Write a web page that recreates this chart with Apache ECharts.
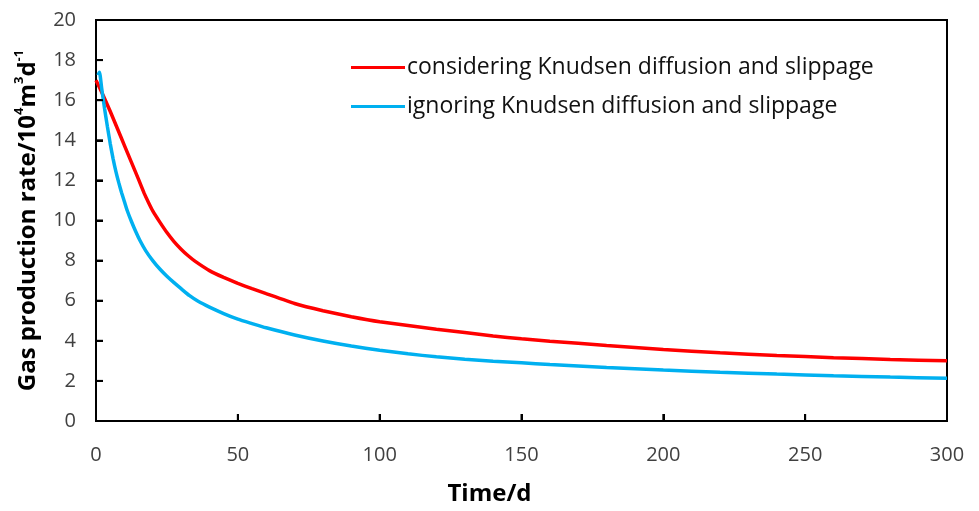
<!DOCTYPE html>
<html>
<head>
<meta charset="utf-8">
<script src="https://cdn.jsdelivr.net/npm/echarts@6/dist/echarts.min.js"></script>
<style>html,body{margin:0;padding:0;background:#fff}#c{width:979px;height:511px}</style>
</head>
<body>
<div id="c"></div>
<script>
var seriesNames = ['considering Knudsen diffusion and slippage', 'ignoring Knudsen diffusion and slippage'];
var xTicks = [0, 50, 100, 150, 200, 250, 300];
var yTicks = [0, 2, 4, 6, 8, 10, 12, 14, 16, 18, 20];

var redTime = [0, 2.5, 5, 7.5, 10, 12.5, 15, 17, 18.5, 20, 22.5, 25, 27.5, 30, 32.5, 35, 40, 45, 50, 55, 60, 70, 80, 90, 100, 120, 140, 150, 160, 180, 200, 220, 240, 260, 280, 300];
var redRate = [17.0, 16.25, 15.45, 14.6, 13.75, 12.9, 12.05, 11.35, 10.9, 10.48, 9.92, 9.4, 8.95, 8.57, 8.24, 7.96, 7.5, 7.16, 6.86, 6.6, 6.35, 5.86, 5.5, 5.2, 4.95, 4.58, 4.24, 4.1, 3.98, 3.77, 3.57, 3.4, 3.27, 3.16, 3.07, 3.0];

var blueTime = [0.7, 1.2, 2, 3, 4, 5, 6, 7, 8, 9, 10, 11, 12.5, 14, 15.5, 17.5, 20, 22.5, 25, 27.5, 30, 33, 36, 40, 45, 50, 55, 60, 70, 80, 90, 100, 110, 120, 130, 140, 150, 160, 180, 200, 220, 240, 260, 280, 300];
var blueRate = [17.25, 17.4, 16.6, 15.6, 14.7, 13.85, 13.1, 12.45, 11.9, 11.4, 10.95, 10.5, 9.95, 9.45, 9.0, 8.5, 8.0, 7.58, 7.22, 6.9, 6.6, 6.25, 5.97, 5.68, 5.36, 5.08, 4.86, 4.65, 4.29, 3.99, 3.74, 3.53, 3.35, 3.2, 3.08, 2.98, 2.9, 2.82, 2.67, 2.54, 2.43, 2.34, 2.26, 2.19, 2.13];

function zip(a, b) { return a.map(function (v, i) { return [v, b[i]]; }); }

var chart = echarts.init(document.getElementById('c'));
var font = 'Open Sans';
var TICK = 7;

chart.setOption({
  animation: false,
  backgroundColor: '#fff',
  grid: { left: 96, right: 32, top: 20, bottom: 87, show: true, borderColor: '#000', borderWidth: 2, backgroundColor: 'transparent' },
  legend: {
    orient: 'vertical', left: 346, top: 51, itemGap: 16,
    itemWidth: 54, itemHeight: 3, icon: 'rect',
    textStyle: { fontFamily: font, fontSize: 23, color: '#111', padding: [0, 0, 0, -3] },
    data: seriesNames
  },
  xAxis: {
    type: 'value', position: 'bottom', min: xTicks[0], max: xTicks[xTicks.length - 1], interval: 50,
    name: 'Time/d', nameLocation: 'middle', nameGap: 61,
    nameTextStyle: { fontFamily: font, fontSize: 24, fontWeight: 'bold', color: '#000', padding: [0, 64, 0, 0] },
    axisLine: { show: true, onZero: false, lineStyle: { color: '#000', width: 2 } },
    axisTick: { show: true, inside: true, length: TICK, lineStyle: { color: '#000', width: 2 } },
    axisLabel: { fontFamily: font, fontSize: 20, color: '#404040', margin: 24 },
    splitLine: { show: false }
  },
  yAxis: {
    type: 'value', position: 'left', min: yTicks[0], max: yTicks[yTicks.length - 1], interval: 2,
    name: '{b|Gas production rate/10}{s|4}{b|m}{s|3}{b|d}{s|-1}', nameLocation: 'middle', nameGap: 56, nameRotate: 90,
    nameTextStyle: {
      rich: {
        b: { fontFamily: font, fontSize: 24, fontWeight: 'bold', color: '#000', verticalAlign: 'bottom', lineHeight: 27 },
        s: { fontFamily: font, fontSize: 13, fontWeight: 'bold', color: '#000', verticalAlign: 'top', lineHeight: 27 }
      }
    },
    axisLine: { show: true, onZero: false, lineStyle: { color: '#000', width: 2 } },
    axisTick: { show: true, inside: true, length: TICK, lineStyle: { color: '#000', width: 2 } },
    axisLabel: { fontFamily: font, fontSize: 20, color: '#404040', margin: 20 },
    splitLine: { show: false }
  },
  series: [
    { name: seriesNames[0], type: 'line', data: zip(redTime, redRate), showSymbol: false, smooth: 0.12,
      lineStyle: { color: '#FF0000', width: 3.5 }, itemStyle: { color: '#FF0000' } },
    { name: seriesNames[1], type: 'line', data: zip(blueTime, blueRate), showSymbol: false, smooth: 0.2,
      lineStyle: { color: '#00B0F0', width: 3.5 }, itemStyle: { color: '#00B0F0' } }
  ]
});

// inner tick marks, placed through the chart's own axis scales
var tickGraphics = [];
xTicks.slice(1, -1).forEach(function (v) {
  var p = chart.convertToPixel({ gridIndex: 0 }, [v, yTicks[0]]);
  tickGraphics.push({ type: 'line', z: 100, silent: true,
    shape: { x1: p[0], y1: p[1], x2: p[0], y2: p[1] - TICK },
    style: { stroke: '#000', lineWidth: 2 } });
});
yTicks.slice(1, -1).forEach(function (v) {
  var p = chart.convertToPixel({ gridIndex: 0 }, [xTicks[0], v]);
  tickGraphics.push({ type: 'line', z: 100, silent: true,
    shape: { x1: p[0], y1: p[1], x2: p[0] + TICK, y2: p[1] },
    style: { stroke: '#000', lineWidth: 2 } });
});
chart.setOption({ graphic: tickGraphics });
</script>
</body>
</html>
